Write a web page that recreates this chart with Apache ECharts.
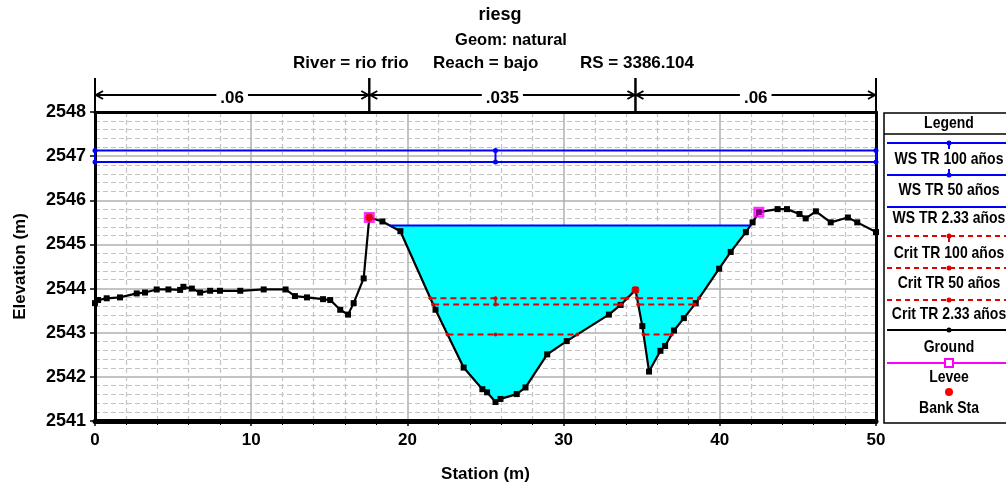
<!DOCTYPE html>
<html><head><meta charset="utf-8">
<script src="https://cdn.jsdelivr.net/npm/echarts@6/dist/echarts.min.js"></script>
<style>html,body{margin:0;padding:0;background:#fff}#c{width:1006px;height:488px}</style>
</head><body><div id="c"></div>
<script>
// ---------------- DATA ----------------
const groundX = [0, 0.2, 0.75, 1.6, 2.67, 3.2, 3.95, 4.7, 5.45, 5.66, 6.2, 6.73, 7.37, 8.0, 9.3, 10.8, 12.2, 12.8, 13.57, 14.6, 15.06, 15.7, 16.2, 16.56, 17.2, 17.56, 18.4, 19.55, 21.8, 23.6, 24.8, 25.1, 25.64, 25.96, 27.0, 27.56, 28.95, 30.2, 32.9, 33.65, 34.6, 35.04, 35.47, 36.2, 36.5, 37.07, 37.7, 38.46, 39.96, 40.7, 41.67, 42.1, 42.5, 43.7, 44.3, 45.1, 45.5, 46.15, 47.1, 48.2, 48.8, 50];
const groundY = [2543.67, 2543.74, 2543.78, 2543.80, 2543.89, 2543.91, 2543.98, 2543.98, 2543.97, 2544.04, 2544.00, 2543.91, 2543.95, 2543.95, 2543.95, 2543.98, 2543.98, 2543.83, 2543.80, 2543.76, 2543.74, 2543.52, 2543.41, 2543.67, 2544.23, 2545.61, 2545.52, 2545.30, 2543.52, 2542.21, 2541.72, 2541.65, 2541.43, 2541.50, 2541.61, 2541.76, 2542.51, 2542.81, 2543.41, 2543.63, 2543.97, 2543.15, 2542.12, 2542.59, 2542.70, 2543.05, 2543.33, 2543.67, 2544.45, 2544.83, 2545.28, 2545.50, 2545.73, 2545.80, 2545.80, 2545.69, 2545.59, 2545.75, 2545.50, 2545.61, 2545.50, 2545.28];
const wsProfiles = ['WS TR 100 años', 'WS TR 50 años', 'WS TR 2.33 años'];
const wsLevels = [2547.13, 2546.87, 2545.43];
const critProfiles = ['Crit TR 100 años', 'Crit TR 50 años', 'Crit TR 2.33 años'];
const critLevels = [2543.78, 2543.64, 2542.96];
const bankStations = [17.56, 34.6];
const leveeStations = [17.56, 42.5];
const nValues = ['.06', '.035', '.06'];
const otherLegend = ['Ground', 'Levee', 'Bank Sta'];
const titleText = 'riesg';
const geomText = 'Geom: natural';
const riverText = 'River = rio frio';
const reachText = 'Reach = bajo';
const rsText = 'RS = 3386.104';
const xMin = 0, xMax = 50, xStep = 10;
const yMin = 2541, yMax = 2548, yStep = 1;
const fillProfile = 2;

// ---------------- HELPERS ----------------
function groundAt(x) {
  for (let i = 0; i < groundX.length - 1; i++) {
    if (x >= groundX[i] && x <= groundX[i + 1]) {
      const t = (x - groundX[i]) / (groundX[i + 1] - groundX[i]);
      return groundY[i] + t * (groundY[i + 1] - groundY[i]);
    }
  }
  return NaN;
}
function wetSegments(level, lo, hi) {
  const pts = [[lo, groundAt(lo)]];
  groundX.forEach((x, i) => { if (x > lo && x < hi) pts.push([x, groundY[i]]); });
  pts.push([hi, groundAt(hi)]);
  const segs = []; let cur = null;
  for (let i = 0; i < pts.length; i++) {
    const p = pts[i];
    if (i > 0) {
      const q = pts[i - 1];
      const qa = q[1] < level, pa = p[1] < level;
      if (qa !== pa) {
        const t = (level - q[1]) / (p[1] - q[1]);
        const xi = q[0] + t * (p[0] - q[0]);
        if (pa) cur = [[xi, level]];
        else { cur.push([xi, level]); segs.push(cur); cur = null; }
      }
    } else if (p[1] < level) cur = [[p[0], level]];
    if (p[1] < level) cur.push(p);
  }
  if (cur) { cur.push([pts[pts.length - 1][0], level]); segs.push(cur); }
  return segs;
}
const leveeElev = leveeStations.map(groundAt);
const bankElev = bankStations.map(groundAt);
let thalweg = groundX[0], minG = Infinity;
groundY.forEach((y, i) => { if (y < minG) { minG = y; thalweg = groundX[i]; } });
function profileSegs(level) {
  if (level > Math.max(...leveeElev)) return wetSegments(level, xMin, xMax);
  return wetSegments(level, leveeStations[0], leveeStations[1]);
}
function segLine(seg, level) {
  const a = seg[0][0], b = seg[seg.length - 1][0];
  const d = [[a, level]];
  if (thalweg > a && thalweg < b) d.push([thalweg, level]);
  d.push([b, level]);
  return d;
}

// ---------------- SERIES ----------------
const series = [];
const fillSegs = profileSegs(wsLevels[fillProfile]);
series.push({
  type: 'custom', coordinateSystem: 'cartesian2d', silent: true, clip: true, z: 1,
  data: fillSegs.map((s, i) => [s[0][0], s[0][1], i]),
  renderItem: (params, api) => {
    const seg = fillSegs[params.dataIndex];
    return { type: 'polygon', shape: { points: seg.map(p => api.coord(p)) }, style: { fill: '#00ffff' } };
  }
});
series.push({
  type: 'line', name: 'Ground', z: 5, silent: true,
  data: groundX.map((x, i) => [x, groundY[i]]),
  lineStyle: { color: '#000', width: 2.2 }, itemStyle: { color: '#000' },
  symbol: 'rect', symbolSize: 6, showSymbol: true
});
wsLevels.forEach((lvl, k) => {
  profileSegs(lvl).forEach(seg => {
    series.push({
      type: 'line', z: 6, silent: true, data: segLine(seg, lvl),
      lineStyle: { color: '#0000ff', width: 2 }, itemStyle: { color: '#0000ff' },
      symbol: k < 2 ? 'circle' : 'none', symbolSize: 5
    });
  });
});
// WS marker connectors
profileSegs(wsLevels[0]).forEach(seg => {
  segLine(seg, wsLevels[0]).forEach(p => {
    series.push({ type: 'line', z: 6, silent: true, symbol: 'none',
      data: [[p[0], wsLevels[0]], [p[0], wsLevels[1]]], lineStyle: { color: '#0000ff', width: 2 } });
  });
});
critLevels.forEach((lvl, k) => {
  profileSegs(lvl).forEach(seg => {
    series.push({
      type: 'line', z: 7, silent: true, data: segLine(seg, lvl),
      lineStyle: { color: '#e00000', width: 2, type: [6, 4] }, itemStyle: { color: '#e00000' },
      symbol: 'circle', symbolSize: 4
    });
  });
});
series.push({ type: 'line', z: 7, silent: true, symbol: 'none',
  data: [[thalweg, critLevels[0]], [thalweg, critLevels[1]]], lineStyle: { color: '#e00000', width: 2 } });
series.push({
  type: 'scatter', z: 8, silent: true, symbol: 'rect', symbolSize: 9,
  data: leveeStations.map((x, i) => [x, leveeElev[i]]),
  itemStyle: { color: 'rgba(255,0,255,0.6)', borderColor: '#ff00ff', borderWidth: 2 }
});
series.push({
  type: 'scatter', z: 9, silent: true, symbol: 'circle', symbolSize: 8,
  data: bankStations.map((x, i) => [x, bankElev[i]]),
  itemStyle: { color: '#ff0000' }
});
// Manning's n annotation above plot
const nBounds = [xMin, bankStations[0], bankStations[1], xMax];
const mctx = document.createElement('canvas').getContext('2d');
const nFont = 'bold 17px "Liberation Sans", Arial, sans-serif';
mctx.font = nFont;
series.push({
  type: 'custom', coordinateSystem: 'cartesian2d', silent: true, clip: false, z: 10,
  data: nValues.map((v, i) => [nBounds[i], nBounds[i + 1]]),
  renderItem: (params, api) => {
    const a = api.coord([api.value(0), yMax]);
    const b = api.coord([api.value(1), yMax]);
    const y = a[1] - 17, top = a[1] - 34;
    const label = nValues[params.dataIndex];
    const mid = (a[0] + b[0]) / 2;
    const tw = mctx.measureText(label).width + 8;
    const st = { stroke: '#000', lineWidth: 2, fill: null };
    return { type: 'group', children: [
      { type: 'line', shape: { x1: a[0], y1: top, x2: a[0], y2: a[1] }, style: st },
      { type: 'line', shape: { x1: b[0], y1: top, x2: b[0], y2: a[1] }, style: st },
      { type: 'line', shape: { x1: a[0] + 1, y1: y, x2: mid - tw / 2, y2: y }, style: st },
      { type: 'line', shape: { x1: mid + tw / 2, y1: y, x2: b[0] - 1, y2: y }, style: st },
      { type: 'polyline', shape: { points: [[a[0] + 8, y - 4], [a[0] + 1, y], [a[0] + 8, y + 4]] }, style: st },
      { type: 'polyline', shape: { points: [[b[0] - 8, y - 4], [b[0] - 1, y], [b[0] - 8, y + 4]] }, style: st },
      { type: 'text', style: { text: label, x: mid, y: y + 3, align: 'center', verticalAlign: 'middle', font: nFont, fill: '#000' } }
    ] };
  }
});

// ---------------- LEGEND (graphic) ----------------
const LF = 'bold 14px "Liberation Sans", Arial, sans-serif';
const legendRows = [
  { name: wsProfiles[0], color: '#0000ff', dash: null, mark: 'down' },
  { name: wsProfiles[1], color: '#0000ff', dash: null, mark: 'up' },
  { name: wsProfiles[2], color: '#0000ff', dash: null, mark: null },
  { name: critProfiles[0], color: '#e00000', dash: [5, 4], mark: 'down' },
  { name: critProfiles[1], color: '#e00000', dash: [5, 4], mark: 'dot' },
  { name: critProfiles[2], color: '#e00000', dash: [5, 4], mark: 'dot' },
  { name: otherLegend[0], color: '#000', dash: null, mark: 'dot' },
  { name: otherLegend[1], color: '#ff00ff', dash: null, mark: 'square' },
  { name: otherLegend[2], color: '#ff0000', dash: null, mark: 'bigdot', noLine: true }
];
const lineYs = [143, 175, 207, 236, 268, 300, 330, 363, 392];
const textYs = [159, 190, 218, 253, 283, 314, 347, 377, 408];
const LX = 949;
const TF = '"Liberation Sans", Arial, sans-serif';
const graphic = [
  { type: 'rect', shape: { x: 884, y: 113, width: 140, height: 310 }, style: { fill: '#fff', stroke: '#000', lineWidth: 1.5 }, z: 0 },
  { type: 'line', shape: { x1: 884, y1: 134, x2: 1006, y2: 134 }, style: { stroke: '#000', lineWidth: 1.5 } },
  { type: 'text', x: LX, y: 124, scaleY: 1.15, style: { text: 'Legend', align: 'center', verticalAlign: 'middle', font: 'bold 14px ' + TF, fill: '#000' } },
  { type: 'text', x: 500, y: 15, style: { text: titleText, align: 'center', verticalAlign: 'middle', font: 'bold 18px ' + TF, fill: '#000' } },
  { type: 'text', x: 511, y: 40, style: { text: geomText, align: 'center', verticalAlign: 'middle', font: 'bold 16.5px ' + TF, fill: '#000' } },
  { type: 'text', x: 293, y: 63, style: { text: riverText, align: 'left', verticalAlign: 'middle', font: 'bold 17px ' + TF, fill: '#000' } },
  { type: 'text', x: 433, y: 63, style: { text: reachText, align: 'left', verticalAlign: 'middle', font: 'bold 17px ' + TF, fill: '#000' } },
  { type: 'text', x: 580, y: 63, style: { text: rsText, align: 'left', verticalAlign: 'middle', font: 'bold 17px ' + TF, fill: '#000' } }
];
legendRows.forEach((r, i) => {
  const ly = lineYs[i];
  if (!r.noLine) graphic.push({ type: 'line', shape: { x1: 887, y1: ly, x2: 1006, y2: ly }, style: { stroke: r.color, lineWidth: 2, lineDash: r.dash || null } });
  if (r.mark === 'down' || r.mark === 'up') {
    graphic.push({ type: 'circle', shape: { cx: LX, cy: ly, r: 2.5 }, style: { fill: r.color } });
    graphic.push({ type: 'line', shape: { x1: LX, y1: ly, x2: LX, y2: r.mark === 'down' ? ly + 6 : ly - 6 }, style: { stroke: r.color, lineWidth: 2 } });
  } else if (r.mark === 'dot') {
    graphic.push({ type: 'circle', shape: { cx: LX, cy: ly, r: 2.5 }, style: { fill: r.color } });
  } else if (r.mark === 'square') {
    graphic.push({ type: 'rect', shape: { x: LX - 4, y: ly - 4, width: 8, height: 8 }, style: { fill: '#fff', stroke: r.color, lineWidth: 2 } });
  } else if (r.mark === 'bigdot') {
    graphic.push({ type: 'circle', shape: { cx: LX, cy: ly, r: 4 }, style: { fill: r.color } });
  }
  graphic.push({ type: 'text', x: LX, y: textYs[i], scaleY: 1.2, style: { text: r.name, align: 'center', verticalAlign: 'middle', font: LF, fill: '#000' } });
});

// ---------------- CHART ----------------
const AF = '"Liberation Sans", Arial, sans-serif';
const frameAxis = { show: true, onZero: false, lineStyle: { color: '#000', width: 3 } };
const chart = echarts.init(document.getElementById('c'), null, { renderer: 'canvas' });
chart.setOption({
  animation: false,
  backgroundColor: '#fff',
  grid: { left: 95, right: 130, top: 112, bottom: 64, show: true, borderColor: '#000', borderWidth: 0, backgroundColor: '#fff', containLabel: false },
  xAxis: [{
    type: 'value', min: xMin, max: xMax, interval: xStep,
    name: 'Station (m)', nameLocation: 'middle', nameGap: 45,
    nameTextStyle: { color: '#000', fontSize: 17, fontWeight: 'bold', fontFamily: AF },
    axisLine: { show: true, onZero: false, lineStyle: { color: '#000', width: 5 } },
    axisTick: { show: true, length: 5, lineStyle: { color: '#000', width: 1.5 } },
    minorTick: { show: true, splitNumber: 5, length: 4, lineStyle: { color: '#000', width: 1 } },
    axisLabel: { color: '#000', fontSize: 17, fontWeight: 'bold', fontFamily: AF, margin: 11 },
    splitLine: { show: true, lineStyle: { color: '#b0b0b0', width: 1.5 } },
    minorSplitLine: { show: true, lineStyle: { color: '#c4c4c4', width: 1.2, type: [5, 3] } }
  }, {
    type: 'value', min: xMin, max: xMax, position: 'top', axisLine: frameAxis,
    axisTick: { show: false }, axisLabel: { show: false }, splitLine: { show: false }
  }],
  yAxis: [{
    type: 'value', min: yMin, max: yMax, interval: yStep,
    name: 'Elevation (m)', nameLocation: 'middle', nameGap: 66, nameRotate: 90,
    nameTextStyle: { color: '#000', fontSize: 17, fontWeight: 'bold', fontFamily: AF },
    axisLine: frameAxis,
    axisTick: { show: true, length: 5, lineStyle: { color: '#000', width: 1.5 } },
    axisLabel: { color: '#000', fontSize: 18, fontWeight: 'bold', fontFamily: AF, margin: 9, formatter: v => String(v) },
    splitLine: { show: true, lineStyle: { color: '#b0b0b0', width: 1.5 } },
    minorTick: { show: false, splitNumber: 5 },
    minorSplitLine: { show: true, lineStyle: { color: '#c4c4c4', width: 1.2, type: [5, 3] } }
  }, {
    type: 'value', min: yMin, max: yMax, position: 'right', axisLine: frameAxis,
    axisTick: { show: false }, axisLabel: { show: false }, splitLine: { show: false }
  }],
  series: series,
  graphic: graphic
});
</script></body></html>
